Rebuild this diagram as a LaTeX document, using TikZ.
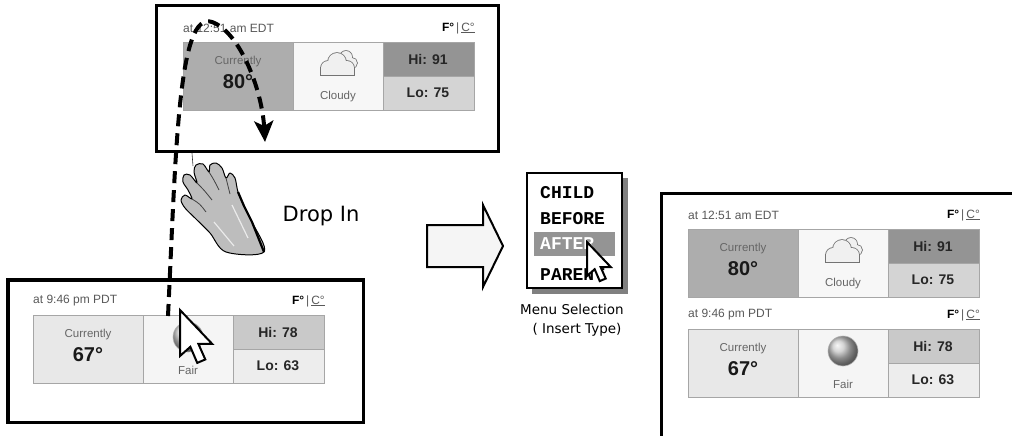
\documentclass[tikz,border=0pt]{standalone}
\usepackage{fontspec}
\setmainfont{Liberation Sans}
\newfontfamily\dropfont{DejaVu Sans}
\newfontfamily\menufont{Liberation Mono}
\usetikzlibrary{arrows.meta}

\tikzset{
  panel/.style={draw=black, line width=3pt, fill=white},
  cellrule/.style={draw=black!35, line width=0.8pt},
  stamp/.style={inner sep=0pt, text=black!65, font=\fontsize{12}{14}\selectfont},
  faint/.style={inner sep=0pt, text=black!60, font=\fontsize{11.5}{13}\selectfont},
  bigtemp/.style={inner sep=0pt, text=black!90, font=\bfseries\fontsize{20}{22}\selectfont},
  hilo/.style={inner sep=0pt, text=black!85, font=\bfseries\fontsize{14}{16}\selectfont},
  % cell shades of the two forecasts
  warm now/.style={fill=black!32},
  warm sky/.style={fill=black!3},
  warm hi/.style={fill=black!42},
  warm lo/.style={fill=black!17},
  mild now/.style={fill=black!9},
  mild sky/.style={fill=black!4},
  mild hi/.style={fill=black!21},
  mild lo/.style={fill=black!7},
  menuitem/.style={anchor=west, inner sep=0pt, font=\menufont\bfseries\fontsize{18}{20}\selectfont},
  caption/.style={inner sep=0pt, font=\dropfont\fontsize{13.5}{16}\selectfont},
  dragline/.style={line width=4pt, dash pattern=on 12pt off 7pt,
    -{Stealth[length=21pt, width=19pt, inset=5pt]}},
  puffline/.style={draw=black!55, line width=1.6pt},
  pufffill/.style={fill=black!6},
  pics/pointer/.style={code={
    \draw[fill=white, line width=2pt, miter limit=4]
      (0,0) -- (0,40) -- (9,32) -- (15,46) -- (22,43) -- (16,29.5) -- (28,29.5) -- cycle;}},
  pics/cloud/.style={code={
    % back puffs
    \path[puffline] (8,-7) circle (6) (14,-1) circle (5);
    \fill[pufffill] (8,-7) circle (6);
    \fill[pufffill] (14,-1) circle (5);
    % front puffs
    \path[puffline] (-10,4) circle (7) (-1,-2) circle (9) (9,4) circle (7)
      (-17,4) rectangle (16,11);
    \fill[pufffill] (-10,4) circle (7);
    \fill[pufffill] (-1,-2) circle (9);
    \fill[pufffill] (9,4) circle (7);
    \fill[pufffill] (-17,4) rectangle (16,11);}},
  pics/sunball/.style={code={
    \shade[ball color=black!22] (0,0) circle (15);
    \draw[black!30, line width=0.6pt] (0,0) circle (15);}},
}

% one forecast: name, table corner, time, temp, sky, hi, lo, shades, icon
\newcommand{\forecast}[9]{%
  \begin{scope}[shift={#2}]
    \path[#8 now] (0,0) rectangle (110,68);
    \path[#8 sky] (110,0) rectangle (200,68);
    \path[#8 hi] (200,0) rectangle (291,34);
    \path[#8 lo] (200,34) rectangle (291,68);
    \draw[cellrule] (0,0) rectangle (291,68) (110,0) -- (110,68)
      (200,0) -- (200,68) (200,34) -- (291,34);
    \node[stamp, anchor=west] (#1-time) at (0,-14) {at #3};
    \node[stamp, anchor=east] (#1-unit) at (292,-14)
      {\textcolor{black}{\bfseries F°}\,|\,\underline{C°}};
    \node[faint] (#1-now) at (55,20) {Currently};
    \node[bigtemp] (#1-temp) at (55,40) {#4};
    \pic (#1-icon) at (155,22) {#9};
    \node[faint] (#1-sky) at (155,55) {#5};
    \node[hilo] (#1-hi) at (245,17) {Hi: #6};
    \node[hilo] (#1-lo) at (245,51) {Lo: #7};
  \end{scope}}

\begin{document}
\begin{tikzpicture}[x=1pt, y=-1pt]
    \useasboundingbox (0,0) rectangle (1012,436);
    \clip (0,0) rectangle (1012,436);

    % Source page (east coast)
    \draw[panel] (156,5.5) rectangle (498.5,151);
    \forecast{east}{(183,42)}{12:51 am EDT}{80°}{Cloudy}{91}{75}{warm}{cloud}

    % Target page (west coast)
    \draw[panel, line width=3.5pt] (8,280) rectangle (363.5,422.5);
    \forecast{west}{(33,315)}{9:46 pm PDT}{67°}{Fair}{78}{63}{mild}{sunball}

    % Grabbing hand
    \draw[black!80, line width=0.6pt] (192,153) -- (193,166);
    \filldraw[fill=black!26, draw=black, line width=1pt, line join=round]
      plot[smooth cycle, tension=0.55] coordinates {
        (226,252) (210,233) (196,219) (185,208) (181,200) (185,195) (192,199)
        (188,190) (183,182) (184,175) (190,175) (197,183) (194,172) (196,165)
        (203,164) (209,172) (210,165) (216,163) (222,168) (226,178) (230,173)
        (235,178) (238,192) (244,206) (252,222) (264,252)};
    \draw[black!75, line width=0.8pt] (192,199) .. controls (200,204) .. (206,212)
      (197,183) .. controls (204,190) .. (212,200)
      (209,172) .. controls (214,180) .. (219,190)
      (226,178) .. controls (228,186) .. (230,194);
    \draw[black!8, line width=1.2pt] (214,222) -- (234,246) (232,205) -- (248,238);
    \draw[black, line width=2.2pt] (238,192) -- (244,206) -- (252,222) -- (264,252);
    \node[inner sep=0pt, font=\dropfont\fontsize{21}{25}\selectfont]
      (dropin) at (321,216) {Drop In};

    % Drag path
    \coordinate (dragstart) at (168,316);
    \coordinate (dragend) at (265,142);
    \draw[dragline] (dragstart) .. controls (176,150) and (178,10) .. (212,22)
      .. controls (240,32) and (262,90) .. (dragend);
    \pic[scale=1.15] (dragcursor) at (180,310) {pointer};

    % Block arrow
    \draw[line width=2pt, fill=black!4, line join=miter]
      (427,225) -- (483,225) -- (483,205) -- (503,246) -- (483,287)
      -- (483,267) -- (427,267) -- cycle;

    % Insert menu
    \fill[black!50] (532,178) rectangle (628,294);
    \draw[line width=2.5pt, fill=white] (527,173) rectangle (622,288);
    \node[menuitem] (child) at (540,193) {CHILD};
    \node[menuitem] (before) at (540,219) {BEFORE};
    \fill[black!42] (534,232) rectangle (615,256);
    \node[menuitem, text=white] (after) at (540,244) {AFTER};
    \node[menuitem] (parent) at (540,275) {PARENT};
    \pic[scale=0.85] (menucursor) at (587,242) {pointer};
    \node[caption] (menucap) at (572,309) {Menu Selection};
    \node[caption] (menutype) at (577,330) {( Insert Type)};

    % Result page
    \draw[panel] (661.5,445) -- (661.5,193.5) -- (1020,193.5) -- (1020,445);
    \forecast{first}{(688,229)}{12:51 am EDT}{80°}{Cloudy}{91}{75}{warm}{cloud}
    \forecast{second}{(688,329)}{9:46 pm PDT}{67°}{Fair}{78}{63}{mild}{sunball}
\end{tikzpicture}
\end{document}
